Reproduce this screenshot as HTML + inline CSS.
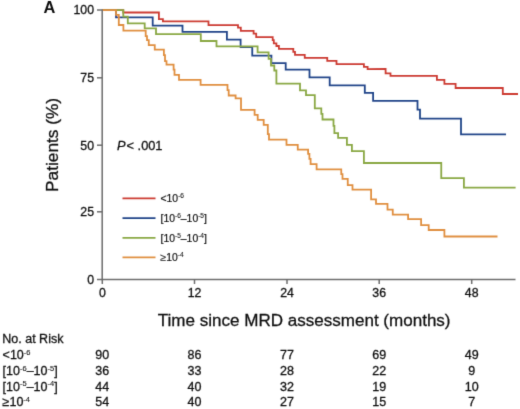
<!DOCTYPE html>
<html><head><meta charset="utf-8"><title>KM</title><style>
html,body{margin:0;padding:0;background:#fff;}
body{width:520px;height:409px;overflow:hidden;}
svg{display:block;will-change:transform;font-family:"Liberation Sans",sans-serif;fill:#111;}
text{stroke:#111;stroke-width:0.3px;}
.s{stroke-width:0.1px;}
.lg{stroke-width:0.2px;}
</style></head><body>
<svg width="520" height="409" viewBox="0 0 520 409">
<defs><filter id="bl" x="0" y="0" width="520" height="409" filterUnits="userSpaceOnUse"><feConvolveMatrix order="3" kernelMatrix="0.0113 0.0838 0.0113 0.0838 0.6193 0.0838 0.0113 0.0838 0.0113" divisor="1" edgeMode="none" preserveAlpha="false"/></filter></defs>
<g filter="url(#bl)">
<polyline points="102,10.2 116,10.2 116,17.4 152.7,17.4 152.7,25.6 182.5,25.6 182.5,31.9 226.9,31.9 226.9,39.6 240.6,39.6 240.6,47.1 252.25,47.1 252.25,55.7 271.4,55.7 271.4,63.1 285.7,63.1 285.7,69.6 309.5,69.6 309.5,77.3 329.7,77.3 329.7,85.3 364.8,85.3 364.8,92.95 373.1,92.95 373.1,100.8 417.5,100.8 417.5,109.6 420,109.6 420,118.7 461,118.7 461,134.3 506,134.3" fill="none" stroke="#204589" stroke-width="1.8" stroke-linejoin="miter" stroke-linecap="butt"/>
<polyline points="102,10.2 123.3,10.2 123.3,12.5 158.9,12.5 158.9,19.1 162.9,19.1 162.9,21.3 208.5,21.3 208.5,25.2 238,25.2 238,27.7 240.8,27.7 240.8,30.8 253.6,30.8 253.6,33.7 256.2,33.7 256.2,37.2 272.7,37.2 272.7,40.2 273.8,40.2 273.8,43.4 276.4,43.4 276.4,46 278.9,46 278.9,48.9 293.3,48.9 293.3,51.8 295,51.8 295,54.95 304.75,54.95 304.75,57.95 327.25,57.95 327.25,60.8 336.5,60.8 336.5,64.2 363.9,64.2 363.9,66.8 367.6,66.8 367.6,69.2 385.6,68.95 385.6,73.3 390.5,73.3 390.5,75.8 436.9,75.8 436.9,79.8 444.4,79.8 444.4,83.95 455.6,83.95 455.6,88 502.8,88 502.8,94 518,94" fill="none" stroke="#cc3a33" stroke-width="1.8" stroke-linejoin="miter" stroke-linecap="butt"/>
<polyline points="102,10.2 123.3,10.2 123.3,16.7 127.8,16.7 127.8,23.4 144.7,23.4 144.7,28.3 156,28.3 156,34.2 200.8,34.2 200.8,41 216.5,41 216.5,46.45 257.6,46.45 257.6,52.4 268.6,52.4 268.6,58.9 271,58.9 271,65.5 274.3,65.5 274.3,70.5 276.4,70.5 276.4,83.7 300,83.7 300,90.45 306,90.45 306,95.2 314.8,95.2 314.8,108.3 321.3,108.3 321.3,113.9 322.5,113.9 322.5,119.5 333.5,119.5 333.5,125.8 334.4,125.8 334.4,133.1 338.1,133.1 338.1,137.95 346.9,137.95 346.9,144.95 351.9,144.95 351.9,151.2 363.9,151.2 363.9,163 441.25,163 441.25,178.2 463.9,178.2 463.9,187.7 515.6,187.7" fill="none" stroke="#8aa844" stroke-width="1.8" stroke-linejoin="miter" stroke-linecap="butt"/>
<polyline points="102,10.2 116,10.2 116,14.8 118.8,14.8 118.8,25 123.4,25 123.4,30.7 145.7,30.7 145.7,36.2 147,36.2 147,40.2 148.75,40.2 148.75,45.2 154.75,45.2 154.75,49.7 163.9,49.7 163.9,55.2 165,55.2 165,61.2 166.5,61.2 166.5,64.6 173.6,64.6 173.6,69.6 174.5,69.6 174.5,74.8 179,74.8 179,79.9 200.6,79.9 200.6,84.95 227.5,84.95 227.5,90.2 228.7,90.2 228.7,95.5 235.6,95.5 235.6,98.3 241,98.3 241,109.8 254.6,109.8 254.6,114.8 257.7,114.8 257.7,119.95 263.7,119.95 263.7,124.95 267.8,124.95 267.8,134.2 269,134.2 269,139.6 286.5,139.6 286.5,144.95 297.75,144.95 297.75,149.6 308.1,149.6 308.1,153.95 309.4,153.95 309.4,158.95 310.6,158.95 310.6,164.2 316.6,164.2 316.6,169.3 341.25,169.3 341.25,174.2 342.5,174.2 342.5,178.95 347.75,178.95 347.75,185.2 352.5,185.2 352.5,189.6 371.1,189.6 371.1,199.4 376,199.4 376,203.95 387.5,203.95 387.5,209.6 392.75,209.6 392.75,214.6 408.1,214.6 408.1,219.2 421.1,219.2 421.1,225.2 428.7,225.2 428.7,230 444.4,230 444.4,236.5 497.5,236.5" fill="none" stroke="#e08f40" stroke-width="1.8" stroke-linejoin="miter" stroke-linecap="butt"/>
<path d="M102.2,9.5V279.5H515.5" fill="none" stroke="#6c6c6c" stroke-width="1.5"/>
<path d="M97,10H102.2" stroke="#6c6c6c" stroke-width="1.5"/>
<path d="M97,77.8H102.2" stroke="#6c6c6c" stroke-width="1.5"/>
<path d="M97,145.2H102.2" stroke="#6c6c6c" stroke-width="1.5"/>
<path d="M97,211.8H102.2" stroke="#6c6c6c" stroke-width="1.5"/>
<path d="M97,279.5H102.2" stroke="#6c6c6c" stroke-width="1.5"/>
<path d="M102.3,279.5V284" stroke="#6c6c6c" stroke-width="1.5"/>
<path d="M194.5,279.5V284" stroke="#6c6c6c" stroke-width="1.5"/>
<path d="M287,279.5V284" stroke="#6c6c6c" stroke-width="1.5"/>
<path d="M379.2,279.5V284" stroke="#6c6c6c" stroke-width="1.5"/>
<path d="M471.7,279.5V284" stroke="#6c6c6c" stroke-width="1.5"/>
<text x="94" y="14.3" text-anchor="end" font-size="12.3">100</text>
<text x="94" y="82.1" text-anchor="end" font-size="12.3">75</text>
<text x="94" y="149.5" text-anchor="end" font-size="12.3">50</text>
<text x="94" y="216.1" text-anchor="end" font-size="12.3">25</text>
<text x="94" y="283.8" text-anchor="end" font-size="12.3">0</text>
<text x="102.3" y="297" text-anchor="middle" font-size="12.3">0</text>
<text x="194.5" y="297" text-anchor="middle" font-size="12.3">12</text>
<text x="287" y="297" text-anchor="middle" font-size="12.3">24</text>
<text x="379.2" y="297" text-anchor="middle" font-size="12.3">36</text>
<text x="471.7" y="297" text-anchor="middle" font-size="12.3">48</text>
<text x="43.6" y="12.9" font-size="16.4" font-weight="bold" style="stroke:none">A</text>
<text x="157.8" y="325.6" font-size="17.05">Time since MRD assessment (months)</text>
<text transform="translate(57.9,192) rotate(-90)" font-size="17.3">Patients (%)</text>
<text x="117" y="150.4" font-size="12.8"><tspan font-style="italic">P</tspan><tspan dx="1">&lt; .001</tspan></text>
<path d="M122.5,198.3H155.5" stroke="#cc3a33" stroke-width="1.7"/>
<text class="lg" x="160.5" y="202.0" font-size="10.4">&lt;10<tspan class="s" font-size="6.6" dy="-3.8">-6</tspan></text>
<path d="M122.5,218.1H155.5" stroke="#204589" stroke-width="1.7"/>
<text class="lg" x="160.5" y="221.8" font-size="10.4">[10<tspan class="s" font-size="6.6" dy="-3.8">-6</tspan><tspan dy="3.8">–10</tspan><tspan class="s" font-size="6.6" dy="-3.8">-5</tspan><tspan dy="3.8">]</tspan></text>
<path d="M122.5,237.8H155.5" stroke="#8aa844" stroke-width="1.7"/>
<text class="lg" x="160.5" y="241.5" font-size="10.4">[10<tspan class="s" font-size="6.6" dy="-3.8">-5</tspan><tspan dy="3.8">–10</tspan><tspan class="s" font-size="6.6" dy="-3.8">-4</tspan><tspan dy="3.8">]</tspan></text>
<path d="M122.5,257.4H155.5" stroke="#e08f40" stroke-width="1.7"/>
<text class="lg" x="160.5" y="261.1" font-size="10.4">≥10<tspan class="s" font-size="6.6" dy="-3.8">-4</tspan></text>
<text x="2.3" y="343" font-size="12.5">No. at Risk</text>
<text x="2.6" y="359" font-size="12.5">&lt;10<tspan class="s" font-size="7.5" dy="-4.5">-6</tspan></text>
<text x="102.3" y="359" text-anchor="middle" font-size="12.5">90</text>
<text x="194.5" y="359" text-anchor="middle" font-size="12.5">86</text>
<text x="287" y="359" text-anchor="middle" font-size="12.5">77</text>
<text x="379.2" y="359" text-anchor="middle" font-size="12.5">69</text>
<text x="471.7" y="359" text-anchor="middle" font-size="12.5">49</text>
<text x="2.6" y="375" font-size="12.5">[10<tspan class="s" font-size="7.5" dy="-4.5">-6</tspan><tspan dy="4.5">–10</tspan><tspan class="s" font-size="7.5" dy="-4.5">-5</tspan><tspan dy="4.5">]</tspan></text>
<text x="102.3" y="375" text-anchor="middle" font-size="12.5">36</text>
<text x="194.5" y="375" text-anchor="middle" font-size="12.5">33</text>
<text x="287" y="375" text-anchor="middle" font-size="12.5">28</text>
<text x="379.2" y="375" text-anchor="middle" font-size="12.5">22</text>
<text x="471.7" y="375" text-anchor="middle" font-size="12.5">9</text>
<text x="2.6" y="390.6" font-size="12.5">[10<tspan class="s" font-size="7.5" dy="-4.5">-5</tspan><tspan dy="4.5">–10</tspan><tspan class="s" font-size="7.5" dy="-4.5">-4</tspan><tspan dy="4.5">]</tspan></text>
<text x="102.3" y="390.6" text-anchor="middle" font-size="12.5">44</text>
<text x="194.5" y="390.6" text-anchor="middle" font-size="12.5">40</text>
<text x="287" y="390.6" text-anchor="middle" font-size="12.5">32</text>
<text x="379.2" y="390.6" text-anchor="middle" font-size="12.5">19</text>
<text x="471.7" y="390.6" text-anchor="middle" font-size="12.5">10</text>
<text x="2.6" y="406.2" font-size="12.5">≥10<tspan class="s" font-size="7.5" dy="-4.5">-4</tspan></text>
<text x="102.3" y="406.2" text-anchor="middle" font-size="12.5">54</text>
<text x="194.5" y="406.2" text-anchor="middle" font-size="12.5">40</text>
<text x="287" y="406.2" text-anchor="middle" font-size="12.5">27</text>
<text x="379.2" y="406.2" text-anchor="middle" font-size="12.5">15</text>
<text x="471.7" y="406.2" text-anchor="middle" font-size="12.5">7</text>
</g>
</svg>
</body></html>
